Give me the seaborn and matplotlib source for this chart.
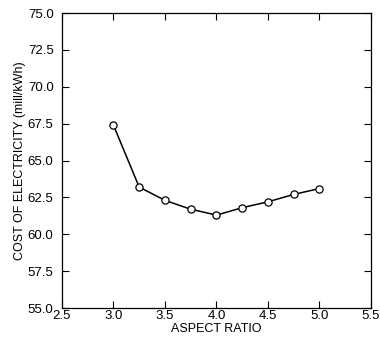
import matplotlib
matplotlib.use('Agg')
import pandas as pd
import matplotlib.pyplot as plt
import seaborn as sns

aspect_ratio = [3.0, 3.25, 3.5, 3.75, 4.0, 4.25, 4.5, 4.75, 5.0]
coe = [67.4, 63.2, 62.3, 61.7, 61.3, 61.8, 62.2, 62.7, 63.1]
x_ticks = [2.5, 3.0, 3.5, 4.0, 4.5, 5.0, 5.5]
y_ticks = [55.0, 57.5, 60.0, 62.5, 65.0, 67.5, 70.0, 72.5, 75.0]

df = pd.DataFrame({'ar': aspect_ratio, 'coe': coe})

sns.set_style('ticks')
plt.rcParams['font.family'] = ['Liberation Sans', 'DejaVu Sans']
plt.rcParams['text.color'] = 'black'
plt.rcParams['axes.labelcolor'] = 'black'

fig = plt.figure(figsize=(3.8, 3.43), dpi=100)
ax = fig.add_axes([0.163, 0.102, 0.813, 0.86])

sns.lineplot(x='ar', y='coe', data=df, ax=ax, color='black', linewidth=1.1,
             marker='o', markersize=5.2, markerfacecolor='white',
             markeredgecolor='black', markeredgewidth=0.9)

ax.set_xlim(2.5, 5.5)
ax.set_ylim(55, 75)
ax.set_xticks(x_ticks)
ax.set_yticks(y_ticks)
ax.set_xticklabels([f'{v:.1f}' for v in x_ticks])
ax.set_yticklabels([f'{v:.1f}' for v in y_ticks])
ax.tick_params(direction='in', top=True, right=True, length=5, width=0.8,
               labelsize=9.5, colors='black')
ax.tick_params(axis='y', pad=6)
ax.tick_params(axis='x', pad=1.5)
for s in ax.spines.values():
    s.set_visible(True)
    s.set_linewidth(0.9)
    s.set_color('black')

ax.set_xlabel('ASPECT RATIO', fontsize=9, labelpad=1, color='black')
ax.set_ylabel('COST OF ELECTRICITY (mill/kWh)', fontsize=9, labelpad=1.5,
              color='black')

fig.savefig('out.png', dpi=100, facecolor='white')
